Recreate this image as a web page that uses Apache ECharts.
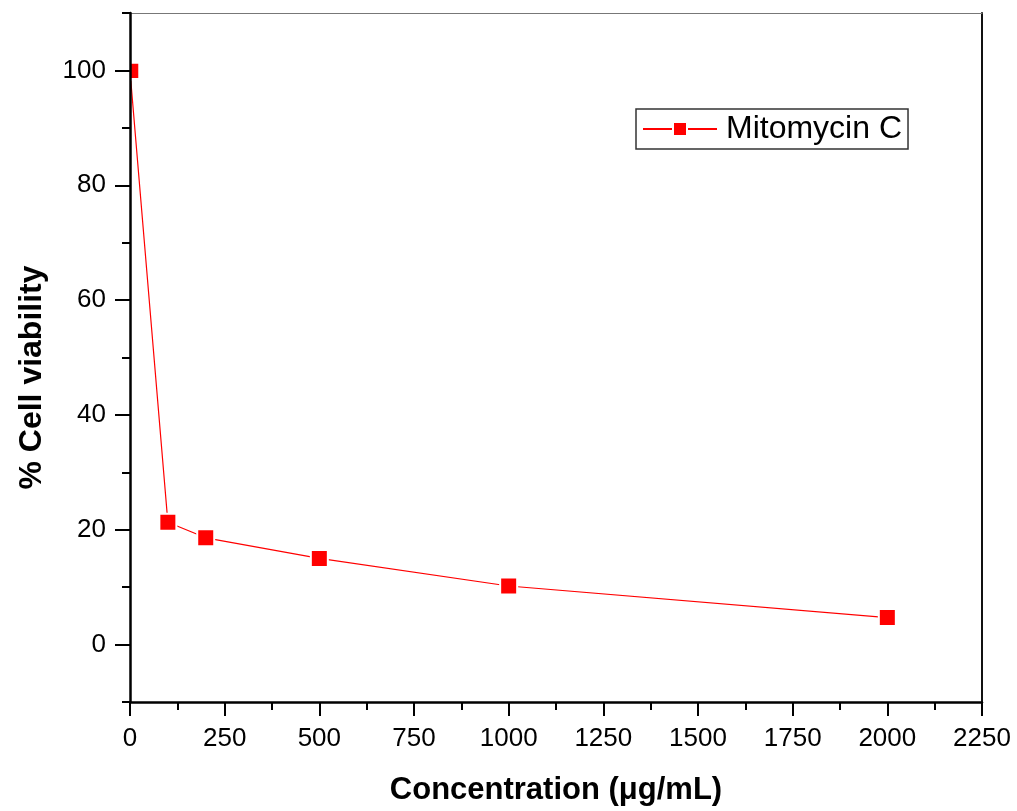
<!DOCTYPE html>
<html>
<head>
<meta charset="utf-8">
<script src="https://cdn.jsdelivr.net/npm/echarts@6/dist/echarts.min.js"></script>
<style>
html,body{margin:0;padding:0;background:#fff;}
#chart{width:1017px;height:811px;}
</style>
</head>
<body>
<div id="chart"></div>
<script>
var seriesName = 'Mitomycin C';
var concentrations = [0, 100, 200, 500, 1000, 2000];
var viability = [99.9, 21.3, 18.6, 15.0, 10.2, 4.7];
var xTitle = 'Concentration (\u03bcg/mL)';
var yTitle = '% Cell viability';
var yMajorTicks = [0, 20, 40, 60, 80, 100];
var yMinorTicks = [-10, 10, 30, 50, 70, 90, 110];

var FONT = 'Liberation Sans, Arial, sans-serif';

var seriesData = concentrations.map(function (c, i) {
  var item = { value: [c, viability[i]] };
  if (i === 0) {
    // first marker sits on the left frame and is cut by it
    item.symbolSize = [9, 17];
    item.symbolOffset = [4.5, 0];
  }
  return item;
});

function plain(v) { return String(v); }

var chart = echarts.init(document.getElementById('chart'), null, { renderer: 'canvas' });
chart.setOption({
  backgroundColor: '#ffffff',
  animation: false,
  grid: { left: 130, right: 35, top: 13, bottom: 109, containLabel: false },
  legend: {
    show: true,
    left: 636,
    top: 109,
    orient: 'horizontal',
    padding: [4, 6, 4, 6],
    borderColor: '#333',
    borderWidth: 1.5,
    itemWidth: 74,
    itemHeight: 17.5,
    itemGap: 5,
    textStyle: { fontFamily: FONT, fontSize: 32, color: '#000', padding: [0, 0, 0, 4] },
    data: [seriesName]
  },
  xAxis: [
    {
      type: 'value', position: 'bottom', min: 0, max: 2250, interval: 250,
      name: xTitle, nameLocation: 'middle', nameGap: 73,
      nameTextStyle: { fontFamily: FONT, fontSize: 31, fontWeight: 'bold', color: '#000' },
      axisLine: { show: true, onZero: false, lineStyle: { color: '#000', width: 2.5 } },
      axisTick: { show: true, inside: false, length: 14, lineStyle: { color: '#000', width: 2 } },
      minorTick: { show: true, splitNumber: 2, length: 8, lineStyle: { color: '#000', width: 2 } },
      axisLabel: { fontFamily: FONT, fontSize: 26, color: '#000', margin: 24, formatter: plain },
      splitLine: { show: false }, minorSplitLine: { show: false }, z: 10
    },
    {
      type: 'value', position: 'top', min: 0, max: 2250,
      axisLine: { show: true, onZero: false, lineStyle: { color: '#777', width: 1.2 } },
      axisTick: { show: false }, axisLabel: { show: false }, splitLine: { show: false }
    }
  ],
  yAxis: [
    {
      type: 'value', position: 'left', min: -10, max: 110,
      name: yTitle, nameLocation: 'middle', nameGap: 82, nameRotate: 90,
      nameTextStyle: { fontFamily: FONT, fontSize: 32, fontWeight: 'bold', color: '#000', padding: [0, 40, 0, 0] },
      axisLine: { show: true, onZero: false, lineStyle: { color: '#000', width: 2.5 } },
      axisTick: { show: true, inside: false, length: 15, customValues: yMajorTicks, lineStyle: { color: '#000', width: 2 } },
      axisLabel: { fontFamily: FONT, fontSize: 26, color: '#000', margin: 24, customValues: yMajorTicks, formatter: plain },
      splitLine: { show: false }, z: 10
    },
    {
      type: 'value', position: 'left', offset: 0, min: -10, max: 110,
      axisLine: { show: false, onZero: false },
      axisTick: { show: true, inside: false, length: 8, customValues: yMinorTicks, lineStyle: { color: '#000', width: 2 } },
      axisLabel: { show: false, customValues: yMinorTicks },
      splitLine: { show: false }, z: 10
    },
    {
      type: 'value', position: 'right', min: -10, max: 110,
      axisLine: { show: true, onZero: false, lineStyle: { color: '#111', width: 2 } },
      axisTick: { show: false }, axisLabel: { show: false }, splitLine: { show: false }
    }
  ],
  series: [
    {
      name: seriesName,
      type: 'line',
      xAxisIndex: 0,
      yAxisIndex: 0,
      data: seriesData,
      symbol: 'rect',
      symbolSize: 17,
      lineStyle: { color: '#ff0000', width: 1.2 },
      itemStyle: { color: '#ff0000', borderColor: '#ffffff', borderWidth: 2 },
      emphasis: { disabled: true },
      clip: true,
      z: 5
    }
  ]
});
</script>
</body>
</html>
